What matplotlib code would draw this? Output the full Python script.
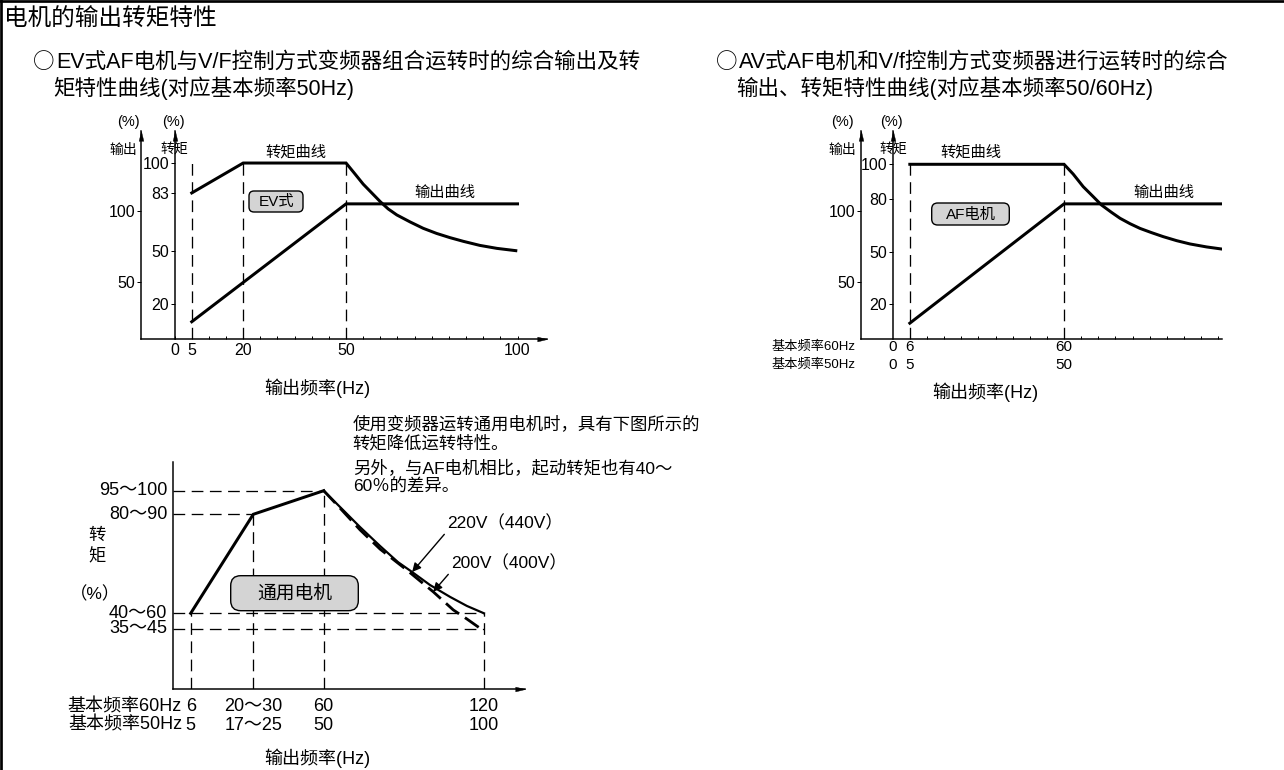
import numpy as np
import matplotlib
matplotlib.use('Agg')
import matplotlib.pyplot as plt
from matplotlib.patches import FancyBboxPatch
from matplotlib.transforms import Affine2D
from matplotlib.lines import Line2D

plt.rcParams['font.family'] = ['Liberation Sans', 'Noto Sans CJK SC']
plt.rcParams['axes.unicode_minus'] = False

W, H = 1284, 770

# ---------------- data ----------------
TITLE = '电机的输出转矩特性'
SUB1 = ['EV式AF电机与V/F控制方式变频器组合运转时的综合输出及转', '矩特性曲线(对应基本频率50Hz)']
SUB2 = ['AV式AF电机和V/f控制方式变频器进行运转时的综合', '输出、转矩特性曲线(对应基本频率50/60Hz)']

# chart 1 (EV type, base 50 Hz)
C1_TQ_F = [5, 20, 50, 52.6, 55, 57.5, 60, 62.3, 64.8, 68.7, 72.5, 76.4, 80.3, 84.2, 89, 94, 99.5]
C1_TQ_T = [83, 100, 100, 93.8, 88, 83, 78, 73.9, 70.5, 66.5, 62.9, 60, 57.6, 55.5, 53.2, 51.5, 50.2]
C1_OUT_F = [5, 50, 100]
C1_OUT_V = [22, 105, 105]
C1_DASH_F = [5, 20, 50]
C1_TQ_TICKS = [20, 50, 83, 100]
C1_OUT_TICKS = [50, 100]
C1_X_TICKS = list(range(0, 101, 5))
C1_X_LABELED = [0, 5, 20, 50, 100]

# chart 2 (AF motor, base 50/60 Hz; x in 60 Hz units)
C2_TQ_F = [6, 60, 63.2, 66.7, 70.2, 73.1, 76.6, 79.6, 83.1, 86.6, 90.6, 94.7, 99.4, 104.1, 109.9, 115.2]
C2_TQ_T = [100, 100, 94.4, 87.2, 81.5, 76.7, 72.5, 69.1, 66, 63.3, 60.9, 58.6, 56.3, 54.4, 52.7, 51.5]
C2_OUT_F = [6, 60, 115.2]
C2_OUT_V = [21, 105, 105]
C2_DASH_F = [6, 60]
C2_TQ_TICKS = [20, 50, 80, 100]
C2_OUT_TICKS = [50, 100]
C2_X_TICKS = list(range(6, 115, 6))
C2_X_POS = [0, 6, 60]
C2_ROW60 = ['0', '6', '60']
C2_ROW50 = ['0', '5', '50']

# chart 3 (general motor, schematic axes; x in 60 Hz units)
C3_MAIN_F = [6, 25, 60]
C3_MAIN_T = [50, 85, 97.5]
C3_220_F = [60, 66.1, 73.6, 81.1, 87.8, 93.1, 99.8, 107.3, 113.6, 120]
C3_220_T = [97.5, 88.9, 80.5, 73.8, 68.1, 64.6, 60, 55.8, 52.6, 50]
C3_200_F = [60, 66.1, 73.6, 81.1, 91.1, 101, 108.5, 113.6, 118.5]
C3_200_T = [97.5, 88.3, 79.5, 72.7, 65.3, 57.6, 51.2, 46.3, 40.3]
C3_LEVELS = [97.5, 85, 50, 40]
C3_LEVEL_LABELS = ['95～100', '80～90', '40～60', '35～45']
C3_LEVEL_END_F = [60, 25, 120, 120]
C3_FREQS = [6, 25, 60, 120]
C3_FREQ_TOP = [50, 85, 97.5, 50]
C3_ROW60 = ['6', '20～30', '60', '120']
C3_ROW50 = ['5', '17～25', '50', '100']
NOTE = ['使用变频器运转通用电机时，具有下图所示的', '转矩降低运转特性。',
        '另外，与AF电机相比，起动转矩也有40～', '60％的差异。']

# schematic (non-proportional) scale breakpoints for chart 3
C3_XS_VAL = [0, 6, 25, 60, 120, 135.3]
C3_XS_POS = [0, 17.4, 80, 150.4, 310.7, 351.7]
C3_YS_VAL = [0, 40, 50, 85, 97.5, 113]
C3_YS_POS = [0, 60.6, 76, 175, 198.6, 227.6]

# ---------------- helpers ----------------
fig = plt.figure(figsize=(W / 100, H / 100), dpi=100)
PX = Affine2D().scale(1 / W, -1 / H).translate(0, 1) + fig.transFigure
K = 'black'
PT = 0.72  # points per pixel


def ftext(x, y, s, size, ha='left', va='center', **kw):
    fig.text(x, y, s, transform=PX, fontsize=size, ha=ha, va=va, color=K, **kw)


def rbox(x0, y0, x1, y1, r, s, size):
    p = FancyBboxPatch((x0, y0), x1 - x0, y1 - y0,
                       boxstyle=f'round,pad=0,rounding_size={r}', transform=PX,
                       fc='#d4d4d4', ec=K, lw=1.0, zorder=4)
    fig.add_artist(p)
    ftext((x0 + x1) / 2, (y0 + y1) / 2 + 0.5, s, size, ha='center', zorder=5)


def add_ax(x0, y0, x1, y1):
    return fig.add_axes([x0 / W, 1 - y1 / H, (x1 - x0) / W, (y1 - y0) / H])


ARROW_UP = [(0, 0), (-0.24, -1), (0.24, -1), (0, 0)]
ARROW_RIGHT = [(0, 0), (-1, 0.24), (-1, -0.24), (0, 0)]


def head(ax, x, y, verts, tr=None):
    ax.plot([x], [y], marker=verts, ms=14, color=K, mec=K, mew=0.3,
            transform=tr if tr is not None else ax.transAxes, clip_on=False, zorder=6)


DASH = (0, (9, 5))
AXLW = 1.5 * PT
CURLW = 3.0 * PT


def top_chart(box, xlim, ylim_t, ylim_o, tq_f, tq_t, out_f, out_v, dash_f,
              tq_ticks, out_ticks, xticks, xarrow):
    ax = add_ax(*box)
    ax.set_xlim(*xlim)
    ax.set_ylim(*ylim_t)
    for s in ['top', 'right']:
        ax.spines[s].set_visible(False)
    for s in ['left', 'bottom']:
        ax.spines[s].set_linewidth(AXLW)
    ax.set_yticks([])
    ax.set_xticks(xticks)
    ax.tick_params(axis='x', direction='in', length=3.5 * PT, width=1.0 * PT,
                   labelsize=11.5, pad=3)
    # torque axis at f = 0
    frac = (0 - xlim[0]) / (xlim[1] - xlim[0])
    sec = ax.secondary_yaxis(frac)
    sec.set_yticks(tq_ticks)
    sec.set_yticklabels([str(v) for v in tq_ticks])
    sec.tick_params(direction='out', length=4 * PT, width=1.0 * PT, labelsize=11.5, pad=1)
    sec.spines['left'].set_linewidth(AXLW)
    # output axis scale
    axo = ax.twinx()
    axo.set_ylim(*ylim_o)
    axo.yaxis.tick_left()
    axo.set_yticks(out_ticks)
    axo.set_yticklabels([str(v) for v in out_ticks])
    axo.tick_params(direction='out', length=4 * PT, width=1.0 * PT, labelsize=11.5, pad=1)
    for s in axo.spines.values():
        s.set_visible(False)
    # curves
    ax.vlines(dash_f, 0, 100, colors=K, lw=1.0 * PT * 1.3, linestyles=DASH)
    ax.plot(tq_f, tq_t, color=K, lw=CURLW, solid_joinstyle='miter', zorder=3)
    axo.plot(out_f, out_v, color=K, lw=CURLW, solid_joinstyle='miter', zorder=3)
    # arrowheads
    head(ax, 0, 1, ARROW_UP)
    head(ax, frac, 1, ARROW_UP)
    if xarrow:
        head(ax, 1, 0, ARROW_RIGHT)
    return ax, axo


# ---------------- border ----------------
fig.add_artist(Line2D([0, W], [1.3, 1.3], transform=PX, color=K, lw=2.7 * PT))
fig.add_artist(Line2D([1.3, 1.3], [0, H], transform=PX, color=K, lw=2.7 * PT))

# ---------------- titles ----------------
ftext(4, 20, TITLE, 17)
ftext(33, 62, '○', 15.5, family=['Noto Sans CJK SC'])
ftext(56, 62, SUB1[0], 15.5)
ftext(53, 88, SUB1[1], 15.5)
ftext(716, 62, '○', 15.5, family=['Noto Sans CJK SC'])
ftext(739, 62, SUB2[0], 15.5)
ftext(736, 88, SUB2[1], 15.5)

# ---------------- chart 1 ----------------
ax1, ax1o = top_chart((141, 131, 547, 339), (-9.8, 108.6), (0, 118.2), (9.86, 156.3),
                      C1_TQ_F, C1_TQ_T, C1_OUT_F, C1_OUT_V, C1_DASH_F,
                      C1_TQ_TICKS, C1_OUT_TICKS, C1_X_TICKS, True)
ax1.set_xticklabels([str(v) if v in C1_X_LABELED else '' for v in C1_X_TICKS])
ftext(128, 122, '(%)', 10.5, ha='center')
ftext(173, 122, '(%)', 10.5, ha='center')
ftext(123, 150, '输出', 10, ha='center')
ftext(174, 150, '转矩', 10, ha='center')
ftext(296, 152, '转矩曲线', 11, ha='center')
ftext(445, 193, '输出曲线', 11, ha='center')
rbox(249, 191, 303, 212, 5, 'EV式', 11)
ftext(317, 388, '输出频率(Hz)', 13, ha='center')

# ---------------- chart 2 ----------------
ax2, ax2o = top_chart((860.7, 131, 1222, 339), (-11.2, 115.3), (0, 119.06), (9.86, 156.3),
                      C2_TQ_F, C2_TQ_T, C2_OUT_F, C2_OUT_V, C2_DASH_F,
                      C2_TQ_TICKS, C2_OUT_TICKS, C2_X_TICKS, False)
ax2.set_xticklabels([''] * len(C2_X_TICKS))
for f, a, b in zip(C2_X_POS, C2_ROW60, C2_ROW50):
    ax2.annotate(a, xy=(f, 0), xycoords=('data', 'axes fraction'), xytext=(0, -8 * PT),
                 textcoords='offset points', ha='center', va='center', fontsize=11)
    ax2.annotate(b, xy=(f, 0), xycoords=('data', 'axes fraction'), xytext=(0, -26 * PT),
                 textcoords='offset points', ha='center', va='center', fontsize=11)
ftext(856, 347, '基本频率60Hz', 9.5, ha='right')
ftext(856, 365, '基本频率50Hz', 9.5, ha='right')
ftext(842, 122, '(%)', 10.5, ha='center')
ftext(891, 122, '(%)', 10.5, ha='center')
ftext(842, 150, '输出', 10, ha='center')
ftext(893, 150, '转矩', 10, ha='center')
ftext(971, 152, '转矩曲线', 11, ha='center')
ftext(1164, 193, '输出曲线', 11, ha='center')
rbox(931.7, 203, 1009.3, 225, 6, 'AF电机', 11)
ftext(985, 392, '输出频率(Hz)', 13, ha='center')

# ---------------- chart 3 ----------------
ax3 = add_ax(173.3, 461.7, 525, 689.3)


def xf(v):
    return np.interp(v, C3_XS_VAL, C3_XS_POS)


def xi(v):
    return np.interp(v, C3_XS_POS, C3_XS_VAL)


def yf(v):
    return np.interp(v, C3_YS_VAL, C3_YS_POS)


def yi(v):
    return np.interp(v, C3_YS_POS, C3_YS_VAL)


ax3.set_xscale('function', functions=(xf, xi))
ax3.set_yscale('function', functions=(yf, yi))
ax3.set_xlim(C3_XS_VAL[0], C3_XS_VAL[-1])
ax3.set_ylim(C3_YS_VAL[0], C3_YS_VAL[-1])
for s in ['top', 'right']:
    ax3.spines[s].set_visible(False)
for s in ['left', 'bottom']:
    ax3.spines[s].set_linewidth(AXLW)
ax3.set_xticks([])
ax3.set_yticks([])
ax3.minorticks_off()
head(ax3, 1, 0, ARROW_RIGHT)

for lvl, end in zip(C3_LEVELS, C3_LEVEL_END_F):
    ax3.plot([0, end], [lvl, lvl], color=K, lw=1.3 * PT, ls=DASH)
for f, top in zip(C3_FREQS, C3_FREQ_TOP):
    ax3.plot([f, f], [0, top], color=K, lw=1.3 * PT, ls=DASH)
ax3.plot(C3_MAIN_F, C3_MAIN_T, color=K, lw=CURLW, solid_joinstyle='miter', zorder=3)
ax3.plot(C3_220_F, C3_220_T, color=K, lw=2.2 * PT, zorder=3)
ax3.plot(C3_200_F, C3_200_T, color=K, lw=2.8 * PT, dashes=(6, 2.5), zorder=3)

for lvl, lab in zip(C3_LEVELS, C3_LEVEL_LABELS):
    ax3.annotate(lab, xy=(0, lvl), xycoords=('axes fraction', 'data'), xytext=(-6 * PT, 0),
                 textcoords='offset points', ha='right', va='center', fontsize=13)
for f, a, b in zip(C3_FREQS, C3_ROW60, C3_ROW50):
    ax3.annotate(a, xy=(f, 0), xycoords=('data', 'axes fraction'), xytext=(0, -17.5 * PT),
                 textcoords='offset points', ha='center', va='center', fontsize=13)
    ax3.annotate(b, xy=(f, 0), xycoords=('data', 'axes fraction'), xytext=(0, -36 * PT),
                 textcoords='offset points', ha='center', va='center', fontsize=13)
ftext(182, 706.7, '基本频率60Hz', 13, ha='right')
ftext(182, 725, '基本频率50Hz', 13, ha='right')
ftext(96.7, 535, '转', 12.5, ha='center')
ftext(96.7, 556, '矩', 12.5, ha='center')
ftext(95, 594, '（%）', 12.5, ha='center')
rbox(230.7, 575.7, 358.3, 610.7, 10, '通用电机', 13.5)
ftext(317.5, 758, '输出频率(Hz)', 13, ha='center')

for y, line in zip([424, 443, 468, 487], NOTE):
    ftext(352.7, y, line, 12.5)

ap = dict(arrowstyle='-|>', color=K, lw=1.0, mutation_scale=13, shrinkA=0, shrinkB=0,
          relpos=(0, 0))
ax3.annotate('220V（440V）', xy=(C3_220_F[5], C3_220_T[5]), xytext=(446.7, H - 523.3),
             textcoords='figure pixels', ha='left', va='center', fontsize=12.5,
             arrowprops=ap)
ax3.annotate('200V（400V）', xy=(C3_200_F[5], C3_200_T[5]), xytext=(450.7, H - 563.3),
             textcoords='figure pixels', ha='left', va='center', fontsize=12.5,
             arrowprops=ap)

fig.savefig('out.png', dpi=100)
